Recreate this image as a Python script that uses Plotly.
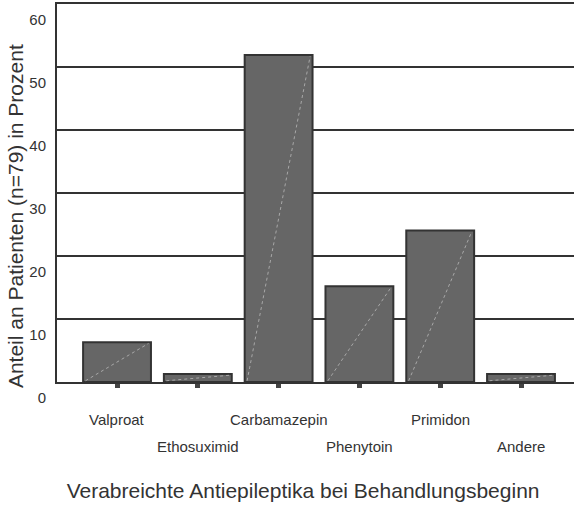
import plotly.graph_objects as go

_FONT = "Liberation Sans, Arial, sans-serif"
_TEXT = "#333333"
_LINE = "#333333"
_BAR = "#666666"

drugs = ["Valproat", "Ethosuximid", "Carbamazepin", "Phenytoin", "Primidon", "Andere"]
patients = [5, 1, 41, 12, 19, 1]
n_total = 79
percent = [p / n_total * 100 for p in patients]
y_ticks = [0, 10, 20, 30, 40, 50, 60]

bar_width = 0.84
pos = list(range(len(drugs)))

fig = go.Figure()

fig.add_trace(
    go.Bar(
        x=pos,
        y=percent,
        width=bar_width,
        marker=dict(color=_BAR, line=dict(color=_LINE, width=2)),
        showlegend=False,
        hoverinfo="skip",
    )
)

# faint diagonal inside each bar (artifact of the original rendering)
diag_x, diag_y = [], []
for i, v in zip(pos, percent):
    diag_x += [i - bar_width / 2 + 0.03, i + bar_width / 2 - 0.03, None]
    diag_y += [0.2, v - 0.2, None]
fig.add_trace(
    go.Scatter(
        x=diag_x,
        y=diag_y,
        mode="lines",
        line=dict(color="#a8a8a8", width=1, dash="dot"),
        showlegend=False,
        hoverinfo="skip",
    )
)

# staggered category labels
for i, name in zip(pos, drugs):
    fig.add_annotation(
        x=i,
        y=0,
        xref="x",
        yref="paper",
        text=name,
        showarrow=False,
        yanchor="middle",
        yshift=-37 if i % 2 == 0 else -64,
        font=dict(size=15, color=_TEXT, family=_FONT),
    )

fig.add_annotation(
    x=-0.0812,
    y=0.439,
    xref="paper",
    yref="paper",
    text="Anteil an Patienten (n=79) in Prozent",
    textangle=-90,
    showarrow=False,
    xanchor="center",
    yanchor="middle",
    font=dict(size=21, color=_TEXT, family=_FONT),
)

fig.update_layout(
    width=574,
    height=509,
    paper_bgcolor="#ffffff",
    plot_bgcolor="#ffffff",
    font=dict(family=_FONT, color=_TEXT),
    margin=dict(l=57, r=0, t=4, b=127),
    bargap=0.16,
    title=dict(
        text="Verabreichte Antiepileptika bei Behandlungsbeginn",
        x=0.528,
        xanchor="center",
        y=1 - 491 / 509,
        yanchor="middle",
        font=dict(size=21, color=_TEXT, family=_FONT),
    ),
    xaxis=dict(
        range=[-0.743, 5.656],
        tickvals=pos,
        ticktext=["" for _ in pos],
        ticks="outside",
        ticklen=4,
        tickwidth=5,
        tickcolor="#444444",
        showgrid=False,
        zeroline=False,
        showline=True,
        linecolor=_LINE,
        linewidth=2,
        mirror=True,
        fixedrange=True,
    ),
    yaxis=dict(
        range=[0, 60],
        tickvals=y_ticks,
        ticks="",
        ticklabelshift=16,
        ticklabelstandoff=6,
        tickfont=dict(size=15, color=_TEXT, family=_FONT),
        showgrid=True,
        gridcolor=_LINE,
        gridwidth=2,
        zeroline=False,
        showline=True,
        linecolor=_LINE,
        linewidth=2,
        fixedrange=True,
    ),
)

fig.write_html(
    "out.html",
    config={"displayModeBar": False},
    post_script="document.body.style.margin = '0';",
)
